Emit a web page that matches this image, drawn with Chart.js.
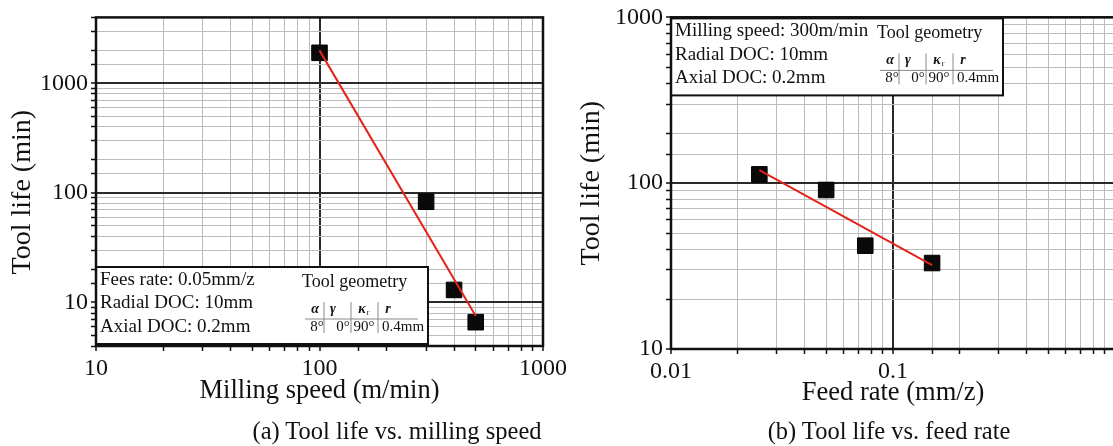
<!DOCTYPE html>
<html>
<head>
<meta charset="utf-8">
<script src="https://cdn.jsdelivr.net/npm/chart.js@4.4.0/dist/chart.umd.min.js"></script>
<style>
  html, body { margin: 0; padding: 0; background: #fff; overflow: hidden; }
  body { width: 1113px; height: 446px; position: relative; font-family: "Liberation Serif", serif; }
  .panel { position: absolute; top: 0; height: 446px; }
  .caption { position: absolute; top: 417px; font-size: 24.5px; line-height: 28px; color: #111; white-space: nowrap; transform: translateX(-50%); }
</style>
</head>
<body>
<div class="panel" style="left:0;width:580px"><canvas id="speedChart" width="580" height="446"></canvas></div>
<div class="panel" style="left:560px;width:580px"><canvas id="feedChart" width="580" height="446"></canvas></div>
<div class="caption" style="left:397px">(a) Tool life vs. milling speed</div>
<div class="caption" style="left:889px">(b) Tool life vs. feed rate</div>

<script>
// (a) tool life vs milling speed
const speeds = [100, 300, 400, 500];
const speedLife = [1900, 83, 13, 6.6];
const speedFitX = [100, 500];
const speedFitY = [2000, 7.5];

// (b) tool life vs feed rate
const feeds = [0.025, 0.05, 0.075, 0.15];
const feedLife = [113, 91, 42, 33];
const feedFitX = [0.025, 0.15];
const feedFitY = [120, 32];

// labelled decades (the "1" of the feed axis falls outside the picture)
const speedLabels = [10, 100, 1000];
const feedLabels = [0.01, 0.1];
const lifeLabels = [10, 100, 1000];

const speedNotes = ["Fees rate: 0.05mm/z", "Radial DOC: 10mm", "Axial DOC: 0.2mm"];
const feedNotes = ["Milling speed: 300m/min", "Radial DOC: 10mm", "Axial DOC: 0.2mm"];
const geomHead = ["α", "γ", "κ", "r"];
const geomVals = ["8°", "0°", "90°", "0.4mm"];

Chart.defaults.font.family = '"Liberation Serif", "Times New Roman", serif';
Chart.defaults.color = "#111";

const SERIF = '"Liberation Serif", serif';

// white box with cutting conditions + tool geometry table
const noteBox = {
  id: "noteBox",
  beforeDatasetsDraw(chart, args, opts) {
    const { ctx, chartArea: ca } = chart;
    const w = 332, h = 77;
    const x0 = ca.left;
    const y0 = opts.anchor === "bottom" ? ca.bottom - h - 2 : ca.top + 1;
    ctx.save();
    ctx.fillStyle = "#fff";
    ctx.fillRect(x0, y0, w, h);
    ctx.strokeStyle = "#111";
    ctx.lineWidth = 2;
    ctx.strokeRect(x0, y0, w, h);

    ctx.fillStyle = "#111";
    ctx.textBaseline = "middle";
    ctx.textAlign = "left";
    ctx.font = "19px " + SERIF;
    opts.lines.forEach((t, i) => ctx.fillText(t, x0 + 4, y0 + 13 + i * 23.5));

    ctx.font = "18px " + SERIF;
    ctx.fillText("Tool geometry", x0 + 206, y0 + 15);

    // little table
    ctx.textAlign = "center";
    const headX = [219, 237, 266, 292];
    const valX = [221, 247, 268, 307];
    ctx.font = "italic bold 14px " + SERIF;
    geomHead.forEach((t, i) => ctx.fillText(t, x0 + headX[i], y0 + 42));
    ctx.font = "8px " + SERIF;
    ctx.fillText("r", x0 + headX[2] + 6, y0 + 46);
    ctx.font = "15px " + SERIF;
    geomVals.forEach((t, i) => ctx.fillText(t, x0 + valX[i], y0 + 60));

    ctx.strokeStyle = "#888";
    ctx.lineWidth = 1;
    ctx.beginPath();
    [228, 255, 282].forEach((sx) => {
      ctx.moveTo(x0 + sx, y0 + 35);
      ctx.lineTo(x0 + sx, y0 + 66);
    });
    ctx.moveTo(x0 + 209, y0 + 52);
    ctx.lineTo(x0 + 322, y0 + 52);
    ctx.stroke();
    ctx.restore();
  },
};

const frame = {
  id: "frame",
  afterDraw(chart) {
    const { ctx, chartArea: ca } = chart;
    ctx.save();
    ctx.strokeStyle = "#111";
    ctx.lineWidth = 2.5;
    ctx.strokeRect(ca.left, ca.top, ca.right - ca.left, ca.bottom - ca.top);
    ctx.restore();
  },
};

function logAxis(min, max, labels, title, fit, titleFont, titlePad) {
  const decade = (v) => labels.find((l) => Math.abs(v / l - 1) < 1e-6);
  const horizontal = fit.height !== undefined;
  return {
    type: "logarithmic",
    min,
    max,
    afterFit(scale) {
      if (horizontal) scale.height = fit.height;
      else scale.width = fit.width;
    },
    border: { display: false },
    grid: {
      color: (c) => (c.tick && decade(c.tick.value) !== undefined ? "#2a2a2a" : "#bcbcbc"),
      lineWidth: (c) => (c.tick && decade(c.tick.value) !== undefined ? 2 : 1),
      tickColor: "#111",
      tickWidth: 1.5,
      tickLength: 5,
    },
    ticks: {
      autoSkip: false,
      maxRotation: 0,
      padding: 3,
      color: "#111",
      font: { size: 24 },
      callback: (v) => {
        const d = decade(v);
        return d !== undefined ? String(d) : "";
      },
    },
    title: {
      display: true,
      text: title,
      color: "#111",
      font: { size: titleFont },
      padding: titlePad,
    },
  };
}

function toPoints(xs, ys) {
  return xs.map((x, i) => ({ x, y: ys[i] }));
}

function toolLifeChart(id, cfg) {
  return new Chart(document.getElementById(id), {
    type: "scatter",
    data: {
      datasets: [
        {
          data: toPoints(cfg.fitX, cfg.fitY),
          showLine: true,
          borderColor: "#e3241b",
          borderWidth: 2,
          pointRadius: 0,
        },
        {
          data: toPoints(cfg.xs, cfg.ys),
          pointStyle: "rect",
          pointRadius: 11,
          backgroundColor: "#0a0a0a",
          borderColor: "#000",
          borderWidth: 1,
        },
      ],
    },
    options: {
      responsive: false,
      animation: false,
      events: [],
      layout: { padding: cfg.padding },
      plugins: {
        legend: { display: false },
        tooltip: { enabled: false },
        noteBox: { anchor: cfg.boxAnchor, lines: cfg.notes },
      },
      scales: { x: cfg.x, y: cfg.y },
    },
    plugins: [noteBox, frame],
  });
}

toolLifeChart("speedChart", {
  xs: speeds,
  ys: speedLife,
  fitX: speedFitX,
  fitY: speedFitY,
  notes: speedNotes,
  boxAnchor: "bottom",
  padding: { top: 14, right: 37, left: 0, bottom: 0 },
  x: logAxis(10, 1000, speedLabels, "Milling speed (m/min)", { height: 100 }, 26.5, { top: 0, bottom: 39 }),
  y: logAxis(4, 4000, lifeLabels, "Tool life (min)\u2002\u00a0", { width: 96 }, 28, { top: 6, bottom: 0 }),
});

toolLifeChart("feedChart", {
  xs: feeds,
  ys: feedLife,
  fitX: feedFitX,
  fitY: feedFitY,
  notes: feedNotes,
  boxAnchor: "top",
  padding: { top: 16, right: 25, left: 0, bottom: 0 },
  x: logAxis(0.01, 1, feedLabels, "Feed rate (mm/z)", { height: 97 }, 26.5, { top: 0, bottom: 37 }),
  y: logAxis(10, 1000, lifeLabels, "Tool life (min)", { width: 111 }, 28, { top: 15, bottom: 0 }),
});
</script>
</body>
</html>
